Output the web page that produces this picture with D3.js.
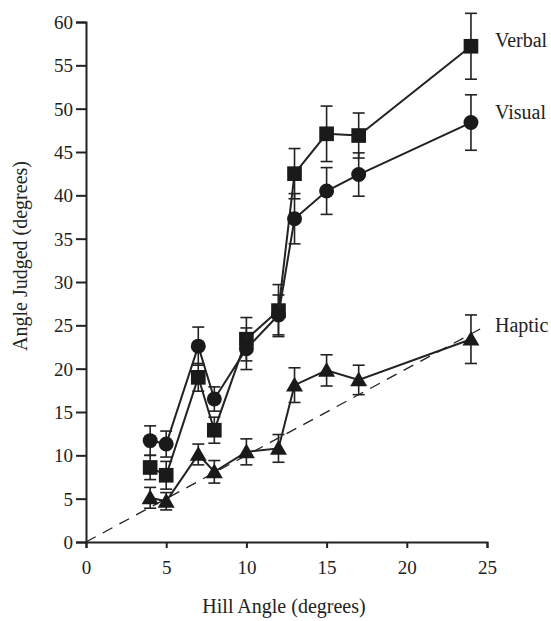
<!DOCTYPE html>
<html>
<head>
<meta charset="utf-8">
<script src="https://cdn.jsdelivr.net/npm/d3@7"></script>
<style>
  body { margin: 0; background: #fff; }
  text { font-family: "Liberation Serif", "Times New Roman", serif; fill: #222; }
</style>
</head>
<body>
<svg id="chart" width="551" height="621"></svg>
<script>
'use strict';

var hillAngles = [4, 5, 7, 8, 10, 12, 13, 15, 17, 24];
var visual = [11.7, 11.3, 22.6, 16.5, 22.3, 26.2, 37.3, 40.5, 42.4, 48.4];
var visualErr = [1.7, 1.5, 2.2, 1.4, 2.4, 2.3, 2.9, 2.7, 2.5, 3.2];
var verbal = [8.6, 7.7, 19.0, 12.9, 23.4, 26.7, 42.5, 47.1, 46.9, 57.2];
var verbalErr = [1.4, 1.6, 1.6, 1.5, 2.5, 3.0, 2.9, 3.2, 2.6, 3.8];
var haptic = [5.1, 4.7, 10.1, 8.1, 10.4, 10.8, 18.1, 19.8, 18.7, 23.4];
var hapticErr = [1.2, 1.0, 1.2, 1.3, 1.5, 1.6, 2.0, 1.8, 1.7, 2.8];
var xTicks = [0, 5, 10, 15, 20, 25];
var yTicks = [0, 5, 10, 15, 20, 25, 30, 35, 40, 45, 50, 55, 60];
var identityEnd = 24.7;

var margin = {top: 22, left: 86},
    width = 401,
    height = 520;

var svg = d3.select("#chart");
var g = svg.append("g").attr("transform", "translate(" + margin.left + "," + margin.top + ")");

var x = d3.scaleLinear().domain([0, 25]).range([0, width]);
var y = d3.scaleLinear().domain([0, 60]).range([height, 0]);

// dashed identity line
g.append("line")
  .attr("x1", x(0)).attr("y1", y(0))
  .attr("x2", x(identityEnd)).attr("y2", y(identityEnd))
  .attr("stroke", "#222").attr("stroke-width", 1.3)
  .attr("stroke-dasharray", "11,8");

// labelDy: baseline offset of the series label from the last point
var series = [
  {name: "Verbal", values: verbal, err: verbalErr, shape: d3.symbolSquare, size: 215, labelDy: 1},
  {name: "Visual", values: visual, err: visualErr, shape: d3.symbolCircle, size: 175, labelDy: -4},
  {name: "Haptic", values: haptic, err: hapticErr, shape: d3.symbolTriangle, size: 125, labelDy: -7}
];

var line = d3.line()
  .x(function(d) { return x(d[0]); })
  .y(function(d) { return y(d[1]); });

series.forEach(function(s) {
  var pts = hillAngles.map(function(a, i) { return [a, s.values[i], s.err[i]]; });
  var sg = g.append("g").attr("class", "series");

  sg.append("path")
    .datum(pts)
    .attr("d", line)
    .attr("fill", "none")
    .attr("stroke", "#222")
    .attr("stroke-width", 2);

  var eb = sg.selectAll(".err").data(pts).enter().append("g").attr("class", "err")
    .attr("stroke", "#222").attr("stroke-width", 1.6);
  eb.append("line")
    .attr("x1", function(d) { return x(d[0]); })
    .attr("x2", function(d) { return x(d[0]); })
    .attr("y1", function(d) { return y(d[1] - d[2]); })
    .attr("y2", function(d) { return y(d[1] + d[2]); });
  [1, -1].forEach(function(sign) {
    eb.append("line")
      .attr("x1", function(d) { return x(d[0]) - 6; })
      .attr("x2", function(d) { return x(d[0]) + 6; })
      .attr("y1", function(d) { return y(d[1] + sign * d[2]); })
      .attr("y2", function(d) { return y(d[1] + sign * d[2]); });
  });

  sg.selectAll(".mark").data(pts).enter().append("path")
    .attr("class", "mark")
    .attr("d", d3.symbol().type(s.shape).size(s.size))
    .attr("transform", function(d) {
      var dy = s.shape === d3.symbolTriangle ? 1.5 : 0;
      return "translate(" + x(d[0]) + "," + (y(d[1]) + dy) + ")";
    })
    .attr("fill", "#1a1a1a");

  var last = pts[pts.length - 1];
  g.append("text")
    .attr("x", x(last[0]) + 24)
    .attr("y", y(last[1]) + s.labelDy)
    .attr("font-size", 20)
    .text(s.name);
});

// axes
var xAxis = g.append("g")
  .attr("transform", "translate(0," + height + ")")
  .call(d3.axisBottom(x).tickValues(xTicks).tickSize(6).tickPadding(13).tickFormat(d3.format("d")));
var yAxis = g.append("g")
  .call(d3.axisLeft(y).tickValues(yTicks).tickSize(10).tickPadding(3).tickFormat(d3.format("d")));

[xAxis, yAxis].forEach(function(ax) {
  ax.select(".domain").attr("stroke", "#222").attr("stroke-width", 2);
  ax.selectAll(".tick line").attr("stroke", "#222").attr("stroke-width", 2);
  ax.selectAll(".tick text")
    .attr("font-family", "Liberation Serif, serif")
    .attr("font-size", 19)
    .attr("fill", "#222");
});
yAxis.selectAll(".tick text").attr("dy", "0.35em");

svg.append("text")
  .attr("x", 284)
  .attr("y", 613)
  .attr("text-anchor", "middle")
  .attr("font-size", 20)
  .text("Hill Angle (degrees)");

svg.append("text")
  .attr("transform", "translate(27,256) rotate(-90)")
  .attr("text-anchor", "middle")
  .attr("font-size", 20)
  .text("Angle Judged (degrees)");
</script>
</body>
</html>
